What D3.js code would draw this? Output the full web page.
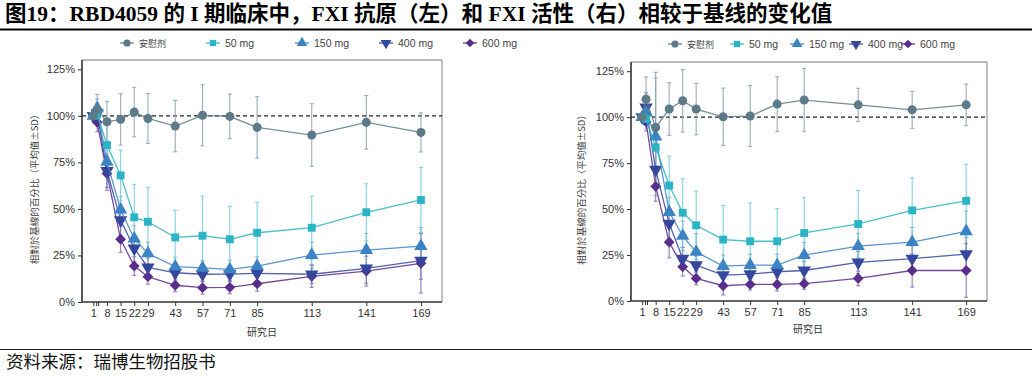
<!DOCTYPE html>
<html><head><meta charset="utf-8">
<script src="https://cdn.jsdelivr.net/npm/d3@7"></script>
<style>body{margin:0;background:#fff}svg{display:block}</style>
</head><body>
<svg id="c" width="1032" height="376"></svg>
<script>
const titleText = "图19：RBD4059 的 I 期临床中，FXI 抗原（左）和 FXI 活性（右）相较于基线的变化值";
const sourceText = "资料来源：瑞博生物招股书";
const yLabel = "相對於基線的百分比（平均值±SD）";
const xLabel = "研究日";
const seriesNames = ["安慰剂", "50 mg", "150 mg", "400 mg", "600 mg"];
const days = [1, 3, 8, 15, 22, 29, 43, 57, 71, 85, 113, 141, 169];
const tickDays = [1, 2.5, 3.5, 8, 15, 22, 29, 43, 57, 71, 85, 113, 141, 169];
const tickLabels = ["1", "", "", "8", "15", "22", "29", "43", "57", "71", "85", "113", "141", "169"];
const yTicks = [0, 25, 50, 75, 100, 125];

// Left: FXI antigen
const antPlacebo = [100, 103.5, 96.8, 98.1, 102, 98.6, 94.5, 100.3, 99.7, 93.8, 89.7, 96.5, 91.1];
const antPlaceboSD = [3, 8, 11, 13.8, 13.3, 13.4, 13.8, 16.4, 12, 16.5, 16.8, 14.4, 10.5];
const ant50 = [100, 101, 84.3, 68, 45.5, 43.1, 34.7, 35.6, 33.7, 37.2, 39.9, 48.2, 54.8];
const ant50SD = [2, 6, 12, 13.6, 17.7, 18.5, 14.5, 21.3, 17.7, 16.3, 16.9, 15.3, 17.5];
const ant150 = [100, 104, 75.3, 49.6, 34, 26.1, 19, 18.3, 17.5, 19.3, 25.2, 27.9, 30];
const ant150SD = [2, 5, 8, 7, 7, 6, 5, 4, 5, 5, 7, 9, 10];
const ant400 = [100, 101.5, 70.5, 44, 28.8, 18.6, 15.7, 14.9, 15, 15.4, 14.9, 18.1, 22.2];
const ant400SD = [2, 5, 9, 8, 7, 5, 4, 4, 4, 4, 5, 8, 10];
const ant600 = [100, 96.5, 69, 33.7, 19.3, 13.6, 9, 7.7, 7.9, 9.8, 13.8, 16.6, 20.8];
const ant600SD = [2, 5, 9, 7, 5, 4, 3.5, 3.5, 3.5, 4, 6, 8, 16];

// Right: FXI activity
const actPlacebo = [100, 109.8, 94.4, 104.4, 108.9, 104.4, 100.2, 100.6, 107.1, 109.3, 106.7, 104, 106.7];
const actPlaceboSD = [2, 12, 30, 14.3, 17, 14, 15.6, 16.6, 14.9, 17.2, 9, 10.1, 11.3];
const act50 = [100, 99, 83.6, 62.8, 48, 41.2, 33.4, 32.5, 32.5, 37, 41.9, 49.3, 54.5];
const act50SD = [2, 5, 10, 16, 18.5, 18.6, 18.6, 20.8, 17.7, 19.2, 18.2, 17.7, 19.9];
const act150 = [100, 102.5, 89.4, 48.4, 35.4, 26.7, 19, 19.5, 19.5, 24.9, 29.8, 32, 37.9];
const act150SD = [2, 6, 32, 8, 8, 10, 6, 6, 6, 7, 7, 8, 11];
const act400 = [100, 105.3, 71.5, 42.1, 23.1, 19.5, 14.1, 14.6, 15.9, 16.6, 21, 23.1, 25.5];
const act400SD = [2, 8, 10, 8, 6, 5, 4, 4, 5, 5, 6, 7, 9];
const act600 = [100, 97.5, 62.3, 32, 18.6, 12.3, 8.3, 9, 9, 9.4, 12.3, 16.6, 16.6];
const act600SD = [2, 5, 8, 8.5, 5, 3.5, 5, 3, 3.5, 3, 4, 9, 14.6];

const colors = ["#5d7a88", "#2ab4c6", "#3b83c4", "#34479c", "#5a2c8c"];
const barColors = ["#8ea4af", "#72cfda", "#7aa9d6", "#7480bd", "#8b6cb0"];
const shapes = ["circle", "square", "tup", "tdown", "diamond"];

const svg = d3.select("#c");

// Title
const title = svg.append("text").attr("x", 5).attr("y", 21)
  .attr("font-family", "'Liberation Serif','Noto Sans CJK SC',serif")
  .attr("font-weight", "bold").attr("font-size", 18).attr("fill", "#000").text(titleText);
const tw = title.node().getComputedTextLength();
title.attr("font-size", 18 * 828 / tw);
svg.append("line").attr("x1", 0).attr("x2", 1032).attr("y1", 29.5).attr("y2", 29.5)
  .attr("stroke", "#000").attr("stroke-width", 2);
svg.append("line").attr("x1", 0).attr("x2", 1032).attr("y1", 349.5).attr("y2", 349.5)
  .attr("stroke", "#222").attr("stroke-width", 1);
const src = svg.append("text").attr("x", 6).attr("y", 368)
  .attr("font-family", "'Noto Sans CJK SC',sans-serif").attr("font-size", 15).attr("fill", "#111").text(sourceText);
const sw = src.node().getComputedTextLength();
src.attr("font-size", 15 * 210 / sw);

function symbolPath(i, k) {
  const s = k || 1;
  switch (shapes[i]) {
    case "circle": return d3.symbol().type(d3.symbolCircle).size(64 * s * s)();
    case "square": return d3.symbol().type(d3.symbolSquare).size(62 * s * s)();
    case "tup": return d3.symbol().type(d3.symbolTriangle).size(78 * s * s)();
    case "tdown": return d3.symbol().type(d3.symbolTriangle).size(78 * s * s)();
    case "diamond": { const r = 5.4 * s; return `M0,${-r}L${r},0L0,${r}L${-r},0Z`; }
  }
}
function symbolRot(i) { return shapes[i] === "tdown" ? " rotate(180)" : ""; }

function panel(cfg) {
  const g = svg.append("g");
  const x = d3.scaleLinear().domain([-4.8, 179.8]).range([cfg.x0, cfg.x1]);
  const y = d3.scaleLinear().domain([0, 130]).range([cfg.y1, cfg.y0]);

  g.append("line").attr("x1", cfg.x0).attr("x2", cfg.x1).attr("y1", cfg.y0).attr("y2", cfg.y0)
    .attr("stroke", "#777").attr("stroke-width", 1);
  g.append("line").attr("x1", cfg.x1).attr("x2", cfg.x1).attr("y1", cfg.y0).attr("y2", cfg.y1)
    .attr("stroke", "#999").attr("stroke-width", 1.2);

  const ya = g.append("g").attr("transform", `translate(${cfg.x0},0)`)
    .call(d3.axisLeft(y).tickValues(yTicks).tickFormat(d => d + "%").tickSize(4).tickPadding(3));
  const xa = g.append("g").attr("transform", `translate(0,${cfg.y1})`)
    .call(d3.axisBottom(x).tickValues(tickDays).tickFormat((d, i) => tickLabels[i]).tickSize(4).tickPadding(3));
  [ya, xa].forEach(a => {
    a.select(".domain").attr("stroke", "#333").attr("stroke-width", 1.6);
    a.selectAll(".tick line").attr("stroke", "#333").attr("stroke-width", 1);
    a.selectAll("text").attr("font-family", "'Liberation Sans',Arial,sans-serif")
      .attr("font-size", 11).attr("fill", "#333");
  });
  xa.select(".domain").attr("d", `M${cfg.x0},0H${cfg.x1}`);
  ya.select(".domain").attr("d", `M0,${cfg.y0}V${cfg.y1}`);

  g.append("line").attr("x1", cfg.x0).attr("x2", cfg.x1).attr("y1", y(100)).attr("y2", y(100))
    .attr("stroke", "#222").attr("stroke-width", 1.2).attr("stroke-dasharray", "4,3");

  g.append("text").attr("transform", `translate(${cfg.ylx},${(cfg.y0 + cfg.y1) / 2 + 6}) rotate(-90)`)
    .attr("text-anchor", "middle").attr("font-family", "'Noto Sans CJK TC',sans-serif")
    .attr("font-size", 9.5).attr("fill", "#444").text(yLabel);
  g.append("text").attr("x", cfg.xlx).attr("y", cfg.xly).attr("text-anchor", "middle")
    .attr("font-family", "'Noto Sans CJK SC',sans-serif").attr("font-size", 10).attr("fill", "#333").text(xLabel);

  const order = [4, 3, 2, 1, 0];
  order.forEach(i => {
    const m = cfg.means[i], s = cfg.sds[i];
    const pts = days.map((d, k) => ({ d, v: m[k], sd: s[k] }));
    const eb = g.append("g").attr("stroke", barColors[i]).attr("stroke-width", 1.1).attr("opacity", 0.9);
    pts.forEach(p => {
      const xx = x(p.d), t = y(p.v + p.sd), b = y(Math.max(0, p.v - p.sd));
      eb.append("line").attr("x1", xx).attr("x2", xx).attr("y1", t).attr("y2", b);
      eb.append("line").attr("x1", xx - 2).attr("x2", xx + 2).attr("y1", t).attr("y2", t);
      eb.append("line").attr("x1", xx - 2).attr("x2", xx + 2).attr("y1", b).attr("y2", b);
    });
  });
  order.forEach(i => {
    const m = cfg.means[i];
    const pts = days.map((d, k) => ({ d, v: m[k] }));
    g.append("path").datum(pts)
      .attr("d", d3.line().x(p => x(p.d)).y(p => y(p.v)))
      .attr("fill", "none").attr("stroke", colors[i]).attr("stroke-width", 1.3).attr("opacity", 0.85);
    g.selectAll(null).data(pts).enter().append("path")
      .attr("d", symbolPath(i))
      .attr("transform", p => `translate(${x(p.d)},${y(p.v)})` + symbolRot(i))
      .attr("fill", colors[i]);
  });

  cfg.legend.forEach((lx, i) => {
    const ly = cfg.ly;
    const lg = g.append("g");
    lg.append("line").attr("x1", lx - 7).attr("x2", lx + 7).attr("y1", ly).attr("y2", ly)
      .attr("stroke", colors[i]).attr("stroke-width", 1.2);
    lg.append("path").attr("d", symbolPath(i, 0.8)).attr("transform", `translate(${lx},${ly})` + symbolRot(i))
      .attr("fill", colors[i]);
    lg.append("text").attr("x", lx + 12).attr("y", ly + 3.5)
      .attr("font-family", i === 0 ? "'Noto Sans CJK SC',sans-serif" : "'Liberation Sans',Arial,sans-serif")
      .attr("font-size", i === 0 ? 9 : 10.5).attr("fill", "#444").text(seriesNames[i]);
  });
}

panel({
  x0: 82, x1: 442, y0: 60, y1: 302, ylx: 38, xlx: 262, xly: 336, ly: 43,
  legend: [127, 213, 302, 386, 470],
  means: [antPlacebo, ant50, ant150, ant400, ant600],
  sds: [antPlaceboSD, ant50SD, ant150SD, ant400SD, ant600SD]
});
panel({
  x0: 631, x1: 987, y0: 62, y1: 301, ylx: 585, xlx: 808, xly: 333, ly: 44,
  legend: [675, 737, 797, 856, 908],
  means: [actPlacebo, act50, act150, act400, act600],
  sds: [actPlaceboSD, act50SD, act150SD, act400SD, act600SD]
});
</script>
</body></html>
